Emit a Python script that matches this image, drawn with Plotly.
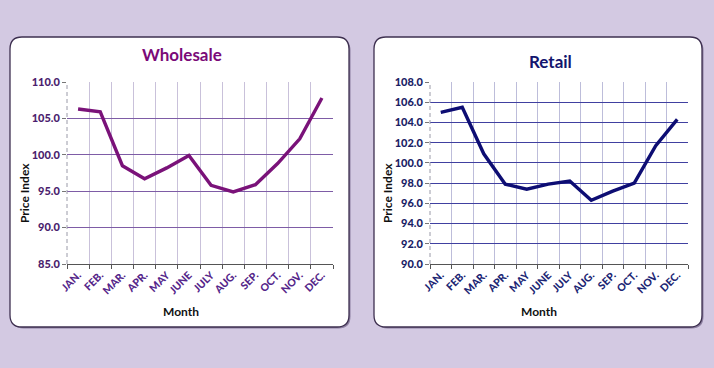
import plotly.graph_objects as go

months = ["JAN.", "FEB.", "MAR.", "APR.", "MAY", "JUNE", "JULY", "AUG.", "SEP.", "OCT.", "NOV.", "DEC."]
wholesale = [106.3, 105.9, 98.5, 96.7, 98.2, 99.9, 95.8, 94.9, 95.9, 98.8, 102.2, 107.8]
retail = [105.0, 105.5, 100.9, 97.9, 97.4, 97.9, 98.2, 96.3, 97.2, 98.0, 101.7, 104.3]

W, H = 714, 368
FONT = "Lato"

def px(x):
    return x / W

def py(y):
    return 1 - y / H

fig = go.Figure()
fig.add_trace(go.Scatter(x=months, y=wholesale, mode="lines",
                         line=dict(color="#7A1279", width=3.4),
                         xaxis="x", yaxis="y", showlegend=False))
fig.add_trace(go.Scatter(x=months, y=retail, mode="lines",
                         line=dict(color="#0D0D73", width=3.4),
                         xaxis="x2", yaxis="y2", showlegend=False))

def xaxis(domain, tickcol, gridcol, anchor):
    return dict(domain=domain, anchor=anchor, type="category", tickson="boundaries",
                showgrid=True, gridcolor=gridcol, gridwidth=1, automargin=False,
                ticks="outside", ticklen=4, tickcolor="#555555",
                showline=True, linecolor="#555555", linewidth=1,
                tickangle=-45, tickfont=dict(family=FONT, size=10.5, color=tickcol, weight=900),
                range=[-0.5, 11.5], fixedrange=True)

def yaxis(domain, rng, dtick, tickcol, gridcol, anchor):
    return dict(domain=domain, anchor=anchor, range=rng, dtick=dtick, tickformat=".1f",
                showgrid=True, gridcolor=gridcol, gridwidth=1, zeroline=False, automargin=False,
                ticks="outside", ticklen=4, tickcolor="#777777",
                showline=False, tickfont=dict(family=FONT, size=11, color=tickcol, weight=900),
                fixedrange=True)

ydom = [py(264), py(82)]
fig.update_layout(
    template="none",
    width=W, height=H, margin=dict(l=0, r=0, t=0, b=0, pad=0, autoexpand=False),
    paper_bgcolor="#D3C9E2", plot_bgcolor="#EBEBEB",
    xaxis=xaxis([px(67), px(333)], "#55268A", "#C9C1DA", "y"),
    yaxis=yaxis(ydom, [85, 110], 5, "#4B1E6E", "#7E5CA6", "x"),
    xaxis2=xaxis([px(430), px(688)], "#1C2674", "#BDBDDA", "y2"),
    yaxis2=yaxis(ydom, [90, 108], 2, "#1A2266", "#4040A0", "x2"),
)

def rrect(x0, y0, x1, y1, r):
    X0, X1 = px(x0), px(x1)
    Y0, Y1 = py(y0), py(y1)
    rx, ry = r / W, r / H
    return (f"M {X0+rx},{Y0} L {X1-rx},{Y0} Q {X1},{Y0} {X1},{Y0-ry} "
            f"L {X1},{Y1+ry} Q {X1},{Y1} {X1-rx},{Y1} L {X0+rx},{Y1} "
            f"Q {X0},{Y1} {X0},{Y1+ry} L {X0},{Y0-ry} Q {X0},{Y0} {X0+rx},{Y0} Z")

shapes = []
for (x0, x1) in [(10, 349), (374, 702)]:
    shapes.append(dict(type="path", xref="paper", yref="paper", layer="below",
                       path=rrect(x0 + 1.5, 38.5, x1 + 1.5, 328.5, 12),
                       fillcolor="#8C7FA0", line=dict(width=0)))
    shapes.append(dict(type="path", xref="paper", yref="paper", layer="below",
                       path=rrect(x0, 37, x1, 327, 12),
                       fillcolor="#FFFFFF", line=dict(color="#3E3050", width=1.3)))
# dashed vertical axis lines at the left of each plot area
for xr, yr in [("x domain", "y domain"), ("x2 domain", "y2 domain")]:
    shapes.append(dict(type="line", xref=xr, yref=yr, x0=0, x1=0, y0=0, y1=1,
                       line=dict(color="#9A9AA8", width=1, dash="4px,3px"), layer="above"))
fig.update_layout(shapes=shapes)

ann = [
    dict(text="<b>Wholesale</b>", x=px(182), y=py(55), font=dict(family=FONT, size=17, color="#7A0A78")),
    dict(text="<b>Retail</b>", x=px(550), y=py(62), font=dict(family=FONT, size=17, color="#12156E")),
    dict(text="<b>Price Index</b>", x=px(24), y=py(193), textangle=-90, font=dict(family=FONT, size=12, color="#111111")),
    dict(text="<b>Price Index</b>", x=px(387), y=py(193), textangle=-90, font=dict(family=FONT, size=12, color="#111111")),
    dict(text="<b>Month</b>", x=px(181), y=py(311), font=dict(family=FONT, size=12, color="#111111")),
    dict(text="<b>Month</b>", x=px(539), y=py(311), font=dict(family=FONT, size=12, color="#111111")),
]
for a in ann:
    a.update(xref="paper", yref="paper", showarrow=False, xanchor="center", yanchor="middle")
fig.update_layout(annotations=ann)

fig.write_html("out.html", config={"displayModeBar": False, "responsive": False},
               post_script="document.body.style.margin='0';document.body.style.overflow='hidden';")
